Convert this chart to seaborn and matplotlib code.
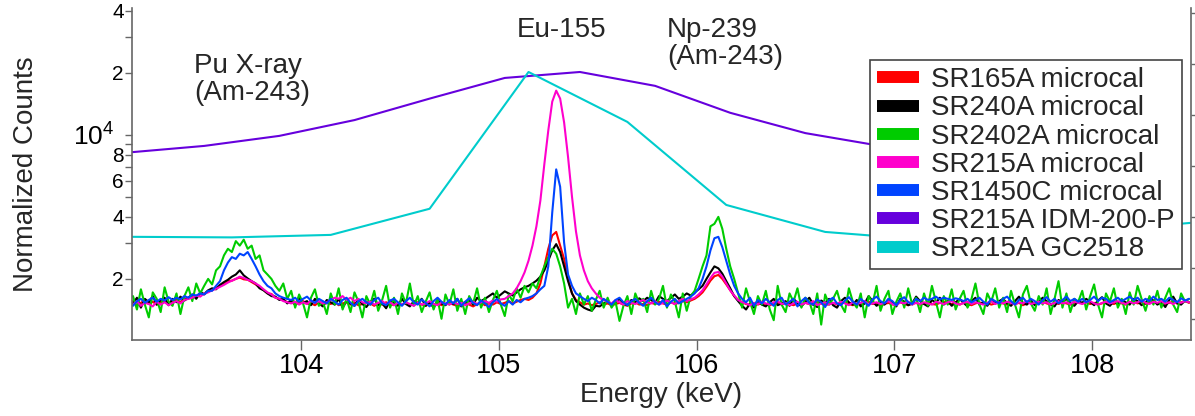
import numpy as np
import pandas as pd
import matplotlib
matplotlib.use("Agg")
import matplotlib.pyplot as plt
from matplotlib.ticker import FixedLocator, FixedFormatter, NullLocator
from matplotlib.lines import Line2D
from matplotlib.transforms import blended_transform_factory
import seaborn as sns

# ---------------- data ----------------
# microcalorimeter channel grid (keV): 103.15 .. 108.49 in 0.02 keV channels
channel_energy = 103.15 + 0.02 * np.arange(268)

sr165a = [
    1560, 1490, 1530, 1580, 1510, 1550, 1500, 1540, 1570, 1520,
    1560, 1590, 1540, 1610, 1600, 1650, 1620, 1700, 1680, 1740,
    1760, 1810, 1850, 1900, 1950, 1960, 2000, 2030, 1990, 1980,
    1930, 1880, 1820, 1770, 1700, 1690, 1620, 1600, 1580, 1540,
    1550, 1500, 1530, 1560, 1510, 1520, 1490, 1540, 1500, 1530,
    1510, 1550, 1490, 1520, 1540, 1500, 1530, 1490, 1510, 1550,
    1520, 1480, 1530, 1500, 1540, 1510, 1490, 1520, 1500, 1530,
    1490, 1510, 1540, 1500, 1480, 1520, 1500, 1530, 1490, 1510,
    1530, 1500, 1480, 1520, 1540, 1500, 1470, 1510, 1530, 1490,
    1520, 1500, 1540, 1510, 1530, 1560, 1520, 1550, 1580, 1600,
    1580, 1620, 1700, 1900, 2300, 2800, 3250, 3380, 2900, 2500,
    2000, 1700, 1580, 1540, 1500, 1520, 1490, 1510, 1540, 1500,
    1520, 1490, 1510, 1530, 1500, 1480, 1520, 1540, 1500, 1510,
    1490, 1530, 1510, 1550, 1520, 1500, 1540, 1510, 1530, 1560,
    1540, 1570, 1600, 1650, 1720, 1830, 1960, 2060, 2090, 2000,
    1880, 1760, 1650, 1580, 1540, 1510, 1490, 1520, 1500, 1530,
    1510, 1490, 1520, 1540, 1500, 1530, 1510, 1490, 1520, 1500,
    1530, 1510, 1500, 1540, 1520, 1490, 1510, 1530, 1500, 1520,
    1540, 1510, 1490, 1520, 1500, 1530, 1550, 1510, 1520, 1490,
    1510, 1530, 1500, 1520, 1540, 1510, 1490, 1520, 1530, 1500,
    1520, 1540, 1510, 1500, 1530, 1550, 1520, 1510, 1540, 1500,
    1530, 1510, 1490, 1520, 1540, 1510, 1530, 1500, 1520, 1550,
    1520, 1500, 1540, 1510, 1530, 1490, 1520, 1540, 1510, 1530,
    1550, 1520, 1500, 1530, 1510, 1540, 1520, 1500, 1530, 1550,
    1520, 1540, 1510, 1530, 1500, 1520, 1550, 1530, 1510, 1540,
    1520, 1500, 1530, 1550, 1520, 1540, 1510, 1530, 1560, 1520,
    1540, 1510, 1530, 1550, 1520, 1540, 1560, 1530,
]

sr240a = [
    1520, 1620, 1450, 1600, 1540, 1650, 1500, 1580, 1620, 1490,
    1600, 1540, 1640, 1570, 1620, 1680, 1600, 1720, 1690, 1760,
    1800, 1780, 1870, 1930, 1980, 2050, 2100, 2200, 2080, 2010,
    1950, 1900, 1800, 1760, 1700, 1650, 1640, 1580, 1600, 1520,
    1580, 1500, 1620, 1530, 1560, 1490, 1600, 1520, 1470, 1580,
    1540, 1500, 1600, 1450, 1560, 1520, 1480, 1590, 1510, 1460,
    1550, 1600, 1490, 1520, 1440, 1570, 1530, 1480, 1600, 1510,
    1470, 1560, 1520, 1600, 1480, 1540, 1450, 1580, 1520, 1490,
    1560, 1510, 1600, 1470, 1540, 1580, 1500, 1620, 1560, 1600,
    1650, 1700, 1620, 1680, 1740, 1700, 1660, 1720, 1780, 1820,
    1850, 1900, 1960, 2050, 2200, 2450, 2750, 2950, 2700, 2300,
    1950, 1700, 1560, 1500, 1450, 1420, 1400, 1480, 1470, 1520,
    1560, 1500, 1540, 1600, 1520, 1490, 1580, 1540, 1610, 1560,
    1620, 1580, 1530, 1650, 1600, 1560, 1620, 1680, 1600, 1640,
    1700, 1660, 1720, 1780, 1850, 2000, 2150, 2300, 2250, 2120,
    1950, 1800, 1650, 1560, 1480, 1420, 1520, 1450, 1560, 1500,
    1470, 1540, 1600, 1490, 1520, 1560, 1480, 1600, 1530, 1470,
    1550, 1620, 1500, 1460, 1570, 1530, 1600, 1490, 1450, 1560,
    1620, 1540, 1500, 1580, 1470, 1520, 1650, 1560, 1480, 1540,
    1500, 1590, 1530, 1470, 1600, 1550, 1490, 1520, 1640, 1560,
    1510, 1470, 1580, 1530, 1620, 1500, 1560, 1480, 1540, 1600,
    1530, 1470, 1560, 1620, 1500, 1540, 1480, 1590, 1520, 1560,
    1600, 1520, 1480, 1560, 1640, 1530, 1500, 1570, 1490, 1550,
    1620, 1560, 1500, 1470, 1580, 1540, 1600, 1520, 1480, 1560,
    1530, 1600, 1550, 1490, 1570, 1630, 1520, 1480, 1560, 1510,
    1580, 1540, 1500, 1600, 1560, 1490, 1530, 1620, 1570, 1500,
    1540, 1460, 1580, 1640, 1520, 1500, 1570, 1540,
]

sr2402a = [
    1650, 1420, 1780, 1500, 1300, 1720, 1600, 1380, 1820, 1550,
    1480, 1700, 1350, 1650, 1820, 1560, 1900, 1700, 1850, 2000,
    1880, 2200, 2300, 2600, 2800, 2700, 3050, 2900, 3100, 2800,
    2900, 2500, 2600, 2200, 2100, 2000, 1850, 1750, 1900, 1600,
    1750, 1450, 1680, 1520, 1300, 1620, 1780, 1480, 1550, 1350,
    1700, 1500, 1800, 1420, 1600, 1380, 1720, 1550, 1300, 1650,
    1500, 1750, 1400, 1580, 1850, 1450, 1620, 1350, 1700, 1520,
    1900, 1480, 1650, 1380, 1550, 1720, 1420, 1600, 1280, 1680,
    1500, 1780, 1400, 1600, 1350, 1650, 1520, 1800, 1450, 1620,
    1380, 1580, 1750, 1500, 1320, 1680, 1560, 1800, 1620, 1850,
    1720, 1900, 1800, 2050, 2300, 2550, 2800, 2650, 2300, 1900,
    1450, 1600, 1350, 1700, 1500, 1650, 1400, 1580, 1750, 1450,
    1620, 1450, 1550, 1250, 1480, 1650, 1350, 1700, 1520, 1600,
    1380, 1750, 1500, 1600, 1850, 1450, 1680, 1550, 1300, 1700,
    1400, 1650, 1750, 2000, 2300, 2600, 3600, 3700, 4000, 3500,
    2800, 2300, 2000, 1700, 1450, 1800, 1550, 1350, 1650, 1500,
    1750, 1420, 1260, 1850, 1500, 1380, 1700, 1550, 1800, 1450,
    1620, 1550, 1350, 1700, 1200, 1680, 1500, 1600, 1750, 1500,
    1380, 1800, 1550, 1450, 1700, 1300, 1650, 1520, 1850, 1400,
    1600, 1750, 1350, 1550, 1700, 1450, 1800, 1500, 1620, 1380,
    1700, 1480, 1850, 1550, 1300, 1650, 1500, 1780, 1420, 1600,
    1750, 1450, 1600, 1900, 1500, 1350, 1700, 1550, 1800, 1450,
    1620, 1380, 1750, 1500, 1300, 1680, 1850, 1520, 1400, 1650,
    1500, 1800, 1350, 1600, 1950, 1450, 1700, 1380, 1600, 1550,
    1750, 1420, 1650, 1880, 1500, 1300, 1700, 1550, 1800, 1450,
    1600, 1350, 1720, 1500, 1850, 1600, 1400, 1650, 1500, 1750,
    1450, 1620, 1800, 1500, 1380, 1700, 1550, 1600,
]

sr215a = [
    1500, 1560, 1480, 1530, 1510, 1470, 1550, 1500, 1540, 1490,
    1530, 1560, 1520, 1580, 1600, 1620, 1660, 1640, 1700, 1720,
    1760, 1790, 1830, 1870, 1920, 1960, 2000, 2050, 2020, 1980,
    1950, 1900, 1850, 1780, 1720, 1680, 1620, 1600, 1560, 1540,
    1520, 1550, 1500, 1540, 1510, 1570, 1530, 1560, 1520, 1540,
    1580, 1620, 1600, 1650, 1580, 1620, 1560, 1600, 1540, 1520,
    1550, 1500, 1530, 1560, 1510, 1540, 1490, 1530, 1500, 1540,
    1510, 1480, 1530, 1500, 1520, 1560, 1510, 1490, 1540, 1520,
    1500, 1540, 1510, 1530, 1490, 1520, 1550, 1510, 1540, 1560,
    1530, 1570, 1550, 1590, 1600, 1650, 1700, 1800, 1950, 2150,
    2450, 2900, 3600, 4800, 7200, 10500, 14500, 16400, 15000, 11500,
    7800, 5000, 3400, 2600, 2200, 1950, 1800, 1700, 1620, 1580,
    1550, 1520, 1580, 1540, 1500, 1560, 1530, 1510, 1550, 1580,
    1540, 1520, 1560, 1500, 1530, 1570, 1540, 1510, 1560, 1600,
    1560, 1590, 1620, 1680, 1760, 1880, 2020, 2140, 2160, 2050,
    1900, 1760, 1660, 1580, 1540, 1520, 1490, 1530, 1510, 1550,
    1520, 1500, 1540, 1560, 1510, 1530, 1490, 1520, 1550, 1500,
    1530, 1510, 1560, 1490, 1520, 1540, 1500, 1530, 1510, 1550,
    1520, 1490, 1540, 1510, 1530, 1560, 1500, 1520, 1540, 1510,
    1530, 1560, 1510, 1490, 1540, 1520, 1550, 1500, 1530, 1510,
    1540, 1520, 1500, 1550, 1530, 1510, 1540, 1560, 1520, 1500,
    1530, 1550, 1510, 1540, 1520, 1500, 1530, 1560, 1510, 1540,
    1520, 1550, 1530, 1500, 1540, 1520, 1560, 1510, 1530, 1550,
    1520, 1540, 1500, 1530, 1560, 1520, 1540, 1510, 1550, 1530,
    1510, 1540, 1560, 1520, 1500, 1530, 1550, 1520, 1540, 1560,
    1530, 1510, 1550, 1520, 1540, 1570, 1530, 1510, 1550, 1530,
    1560, 1520, 1540, 1510, 1550, 1530, 1560, 1540,
]

sr1450c = [
    1480, 1560, 1600, 1530, 1580, 1620, 1550, 1600, 1570, 1630,
    1580, 1620, 1590, 1650, 1620, 1680, 1660, 1700, 1680, 1750,
    1750, 1850, 1950, 2200, 2400, 2550, 2500, 2650, 2600, 2700,
    2500, 2300, 2100, 1950, 1850, 1800, 1700, 1650, 1620, 1600,
    1580, 1620, 1550, 1600, 1640, 1570, 1530, 1600, 1560, 1520,
    1600, 1550, 1500, 1580, 1620, 1530, 1480, 1560, 1600, 1540,
    1500, 1580, 1620, 1520, 1490, 1570, 1600, 1540, 1480, 1560,
    1620, 1540, 1500, 1590, 1530, 1470, 1560, 1620, 1550, 1500,
    1580, 1520, 1600, 1480, 1550, 1610, 1530, 1490, 1570, 1520,
    1460, 1540, 1600, 1520, 1480, 1560, 1500, 1580, 1540, 1600,
    1620, 1650, 1700, 1780, 1850, 2300, 4200, 6800, 5600, 3000,
    2100, 1850, 1700, 1650, 1600, 1560, 1620, 1580, 1520, 1600,
    1550, 1500, 1580, 1620, 1540, 1490, 1560, 1600, 1530, 1480,
    1560, 1620, 1540, 1500, 1580, 1470, 1550, 1600, 1520, 1560,
    1600, 1640, 1700, 1800, 2000, 2300, 2750, 3150, 3200, 2850,
    2450, 2100, 1850, 1700, 1600, 1540, 1620, 1480, 1580, 1520,
    1600, 1540, 1480, 1580, 1620, 1500, 1550, 1600, 1470, 1560,
    1620, 1530, 1500, 1590, 1540, 1460, 1580, 1620, 1520, 1490,
    1570, 1630, 1550, 1500, 1600, 1540, 1480, 1590, 1640, 1560,
    1520, 1600, 1560, 1490, 1580, 1630, 1540, 1510, 1600, 1560,
    1620, 1580, 1600, 1640, 1590, 1620, 1600, 1580, 1610, 1590,
    1560, 1600, 1540, 1580, 1620, 1550, 1500, 1600, 1560, 1520,
    1600, 1640, 1560, 1500, 1580, 1620, 1540, 1600, 1560, 1500,
    1580, 1630, 1550, 1600, 1520, 1580, 1640, 1560, 1600, 1550,
    1600, 1540, 1580, 1640, 1560, 1620, 1600, 1540, 1580, 1620,
    1560, 1600, 1640, 1580, 1620, 1550, 1600, 1560, 1640, 1580,
    1600, 1550, 1620, 1580, 1540, 1610, 1570, 1600,
]

# coarse-binned detectors
idm_energy = [103.13, 103.51, 103.89, 104.27, 104.65, 105.03, 105.41, 105.79,
              106.17, 106.55, 106.93, 107.31, 107.69, 108.07, 108.45]
idm_counts = [8220, 8840, 9890, 11800, 15000, 18900, 20200, 17300,
              12800, 10200, 8840, 8800, 8750, 8700, 8700]

gc_energy = [103.15, 103.65, 104.15, 104.65, 105.15, 105.65, 106.15, 106.65,
             107.15, 107.65, 108.15, 108.65]
gc_counts = [3200, 3180, 3270, 4380, 20200, 11560, 4570, 3380,
             3100, 3250, 3500, 3850]

series_names = ["SR165A microcal", "SR240A microcal", "SR2402A microcal",
                "SR215A microcal", "SR1450C microcal", "SR215A IDM-200-P",
                "SR215A GC2518"]
series_colors = ["#ff0000", "#000000", "#00cc00", "#ff00cc", "#0044ff",
                 "#6600dd", "#00cccc"]

tick_energies = [104, 105, 106, 107, 108]
minor_count_ticks = [2e3, 3e3, 4e3, 5e3, 6e3, 7e3, 8e3, 9e3, 2e4, 3e4, 4e4]
minor_count_labels = ["2", "", "4", "", "6", "", "8", "", "2", "", "4"]

# ---------------- build long table ----------------
frames = []
for name, vals in zip(series_names[:5], [sr165a, sr240a, sr2402a, sr215a, sr1450c]):
    frames.append(pd.DataFrame({"energy": channel_energy, "counts": vals, "series": name}))
frames.append(pd.DataFrame({"energy": idm_energy, "counts": idm_counts, "series": series_names[5]}))
frames.append(pd.DataFrame({"energy": gc_energy, "counts": gc_counts, "series": series_names[6]}))
df = pd.concat(frames, ignore_index=True)

# ---------------- style ----------------
sns.set_style("ticks")
plt.rcParams["font.family"] = ["Liberation Sans", "DejaVu Sans"]
plt.rcParams["mathtext.fontset"] = "custom"
plt.rcParams["mathtext.rm"] = "Liberation Sans"
plt.rcParams["mathtext.it"] = "Liberation Sans:italic"
plt.rcParams["mathtext.bf"] = "Liberation Sans:bold"

W, H = 1195, 416
fig = plt.figure(figsize=(W / 100, H / 100), dpi=100)
ax = fig.add_axes([132 / W, (H - 340) / H, 1059 / W, 332 / H])
ax.set_yscale("log")

palette = dict(zip(series_names, series_colors))
sns.lineplot(data=df, x="energy", y="counts", hue="series", hue_order=series_names,
             palette=palette, estimator=None, sort=False, linewidth=1.5,
             legend=False, ax=ax)

ax.set_xlim(103.145, 108.5)
ax.set_ylim(1010, 41300)

ax.set_xticks(tick_energies)
ax.set_xticklabels([str(t) for t in tick_energies])
ax.xaxis.set_minor_locator(NullLocator())

ax.yaxis.set_major_locator(FixedLocator([1e4]))
ax.yaxis.set_major_formatter(FixedFormatter([r"$10^{4}$"]))
ax.yaxis.set_minor_locator(FixedLocator(minor_count_ticks))
ax.yaxis.set_minor_formatter(FixedFormatter(minor_count_labels))

spine_col = "#666666"
for s in ["top", "right"]:
    ax.spines[s].set_visible(False)
for s in ["left", "bottom"]:
    ax.spines[s].set_color(spine_col)
    ax.spines[s].set_linewidth(1.2)

ax.tick_params(axis="x", which="major", direction="out", length=7, width=1,
               color=spine_col, labelsize=19.5, pad=2.5, labelcolor="black")
ax.tick_params(axis="y", which="major", direction="out", length=5, width=1,
               color=spine_col, labelsize=19, pad=8, labelcolor="black")
ax.tick_params(axis="y", which="minor", direction="out", length=5, width=1,
               color=spine_col, labelsize=15, pad=1, labelcolor="black")

ax.set_xlabel("Energy (keV)", fontsize=20)
ax.set_ylabel("Normalized Counts", fontsize=20)
ax.xaxis.set_label_coords(0.4995, -0.125)
ax.yaxis.set_label_coords(-0.088, 0.5)

# right-hand linear axis (unlabeled)
ax2 = ax.twinx()
ax2.set_ylim(-0.41, 6.1)
ax2.set_yticks(range(7))
ax2.tick_params(axis="y", direction="out", length=7, width=1, color=spine_col,
                labelright=False)
for s in ["top", "left", "bottom"]:
    ax2.spines[s].set_visible(False)
ax2.spines["right"].set_color(spine_col)
ax2.spines["right"].set_linewidth(1.2)

# annotations (va='baseline' refers to the last line here)
trans = blended_transform_factory(ax.transData, ax.transAxes)
ax.text(103.459, 0.7229, "Pu X-ray\n(Am-243)", transform=trans, ha="left",
        va="baseline", fontsize=20, linespacing=1.05)
ax.text(105.091, 0.9127, "Eu-155", transform=trans, ha="left",
        va="baseline", fontsize=20)
ax.text(105.851, 0.831, "Np-239\n(Am-243)", transform=trans, ha="left",
        va="baseline", fontsize=20, linespacing=1.05)

# legend
handles = [Line2D([0], [0], color=c, lw=8.6, solid_capstyle="butt") for c in series_colors]
leg = ax.legend(handles, series_names, loc="upper right", bbox_to_anchor=(0.9915, 0.843),
                borderaxespad=0, fontsize=20, handlelength=1.5, handletextpad=0.45,
                labelspacing=0.08, borderpad=0.25, frameon=True, fancybox=False,
                edgecolor="#444444", framealpha=1)
leg.get_frame().set_linewidth(1.2)
leg.set_zorder(10)

fig.savefig("out.png", dpi=100)
